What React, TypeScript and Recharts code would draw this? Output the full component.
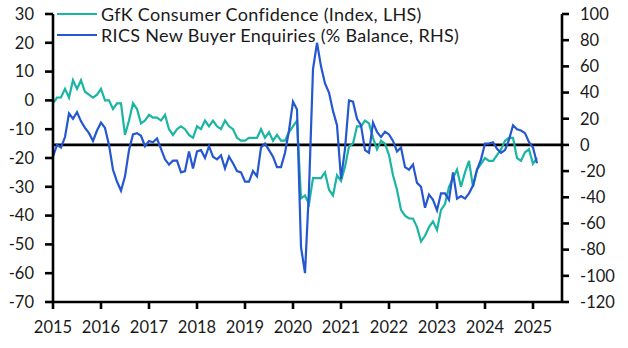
import React from 'react';
import { LineChart, Line, XAxis, YAxis, ReferenceLine, Legend } from 'recharts';

const START_YEAR = 2015;

// GfK Consumer Confidence (Index, LHS), monthly from Jan 2015
const gfkValues = [
  -1, 1, 1, 4, 1, 7, 4, 7, 3, 2, 1, 2,
  4, 0, 0, -3, -1, -1, -12, -7, -1, -3, -8, -7,
  -5, -6, -6, -7, -5, -10, -12, -10, -9, -10, -12, -13,
  -9, -10, -7, -9, -7, -9, -10, -7, -9, -10, -13, -14,
  -14, -13, -13, -13, -10, -13, -11, -14, -12, -14, -14, -11,
  -9, -7, -34, -33, -36, -27, -27, -27, -25, -31, -33, -26,
  -28, -23, -16, -15, -9, -9, -7, -8, -13, -17, -14, -15,
  -19, -26, -31, -38, -40, -41, -41, -44, -49, -47, -44, -42,
  -45, -38, -36, -30, -27, -24, -30, -25, -21, -30, -24, -22,
  -20, -21, -21, -19, -17, -14, -13, -13, -20, -21, -18, -17,
  -22, -20,
];

// RICS New Buyer Enquiries (% Balance, RHS), monthly from Jan 2015
const ricsValues = [
  -9, 0, -2, 6, 24, 20, 25, 18, 13, 9, 3, 11,
  17, 13, 0, -19, -28, -35, -24, -4, 8, 9, 7, -1,
  3, 2, 5, -3, -11, -15, -12, -12, -21, -20, -5, -18,
  -5, -4, -10, -1, -9, -11, -8, -18, -9, -14, -20, -21,
  -28, -28, -20, -24, -2, 1, -4, -9, -17, -17, -6, 11,
  33, 27, -78, -98, -34, 58, 78, 60, 47, 40, 26, 15,
  -26, -3, 34, 33, 20, 15, -4, -6, 17, 10, 6, 10,
  8, 3, -5, -2, -17, -19, -15, -29, -32, -48, -38, -42,
  -50, -37, -37, -42, -21, -41, -39, -41, -37, -31, -19, -11,
  1, 1, 2, -3, -6, -4, 4, 15, 12, 11, 9, 2,
  -2, -14,
];

const yearTicks = [2015, 2016, 2017, 2018, 2019, 2020, 2021, 2022, 2023, 2024, 2025];
const leftTicks = [-70, -60, -50, -40, -30, -20, -10, 0, 10, 20, 30];
const rightTicks = [-120, -100, -80, -60, -40, -20, 0, 20, 40, 60, 80, 100];

const GFK_NAME = 'GfK Consumer Confidence (Index, LHS)';
const RICS_NAME = 'RICS New Buyer Enquiries (% Balance, RHS)';
const GFK_COLOR = '#1bb5a3';
const RICS_COLOR = '#2457d0';

const data = gfkValues.map((g, i) => ({
  t: START_YEAR + i / 12,
  gfk: g,
  rics: ricsValues[i],
}));

const FONT = 'Lato, "Open Sans", sans-serif';
const tickStyle = { fill: '#1a1a1a', fontSize: 16.5, fontFamily: FONT };
const axisLineStyle = { stroke: '#000', strokeWidth: 2.6 };

const legendItems = [
  { name: GFK_NAME, color: GFK_COLOR },
  { name: RICS_NAME, color: RICS_COLOR },
];

const renderLegend = () => (
  <div style={{ fontFamily: FONT, fontSize: 18, color: '#1a1a1a', letterSpacing: 0.3 }}>
    {legendItems.map((it) => (
      <div key={it.name} style={{ display: 'flex', alignItems: 'center', height: 21.5, whiteSpace: 'nowrap' }}>
        <svg width={44} height={4} style={{ flex: 'none' }}>
          <line x1={0} y1={2} x2={40} y2={2} stroke={it.color} strokeWidth={2.2} />
        </svg>
        <span>{it.name}</span>
      </div>
    ))}
  </div>
);

export default function App() {
  return (
    <div style={{ position: 'absolute', left: 0, top: 0, width: 628, height: 348, background: '#fff' }}>
      <LineChart width={628} height={348} data={data} margin={{ top: 14, right: 0, bottom: 0, left: 0 }}>
        <XAxis
          dataKey="t"
          type="number"
          domain={[2015, 2025.604]}
          ticks={yearTicks}
          allowDataOverflow
          height={46}
          tickSize={7}
          tickMargin={12}
          tick={tickStyle}
          axisLine={axisLineStyle}
          tickLine={axisLineStyle}
          interval={0}
        />
        <YAxis
          yAxisId="left"
          orientation="left"
          width={53}
          domain={[-70, 30]}
          ticks={leftTicks}
          allowDataOverflow
          tickSize={8}
          tickMargin={11}
          tick={tickStyle}
          axisLine={axisLineStyle}
          tickLine={axisLineStyle}
          interval={0}
        />
        <YAxis
          yAxisId="right"
          orientation="right"
          width={66}
          domain={[-120, 100]}
          ticks={rightTicks}
          allowDataOverflow
          tickSize={7}
          tickMargin={11}
          tick={tickStyle}
          axisLine={axisLineStyle}
          tickLine={axisLineStyle}
          interval={0}
        />
        <ReferenceLine yAxisId="right" y={0} stroke="#000" strokeWidth={2.6} />
        <Line
          yAxisId="left"
          dataKey="gfk"
          name={GFK_NAME}
          stroke={GFK_COLOR}
          strokeWidth={2.2}
          dot={false}
          type="linear"
          isAnimationActive={false}
        />
        <Line
          yAxisId="right"
          dataKey="rics"
          name={RICS_NAME}
          stroke={RICS_COLOR}
          strokeWidth={2.2}
          dot={false}
          type="linear"
          isAnimationActive={false}
        />
        <Legend
          layout="vertical"
          align="center"
          verticalAlign="middle"
          content={renderLegend}
          wrapperStyle={{ left: 57, top: 3, width: 520, height: 44 }}
        />
      </LineChart>
    </div>
  );
}
